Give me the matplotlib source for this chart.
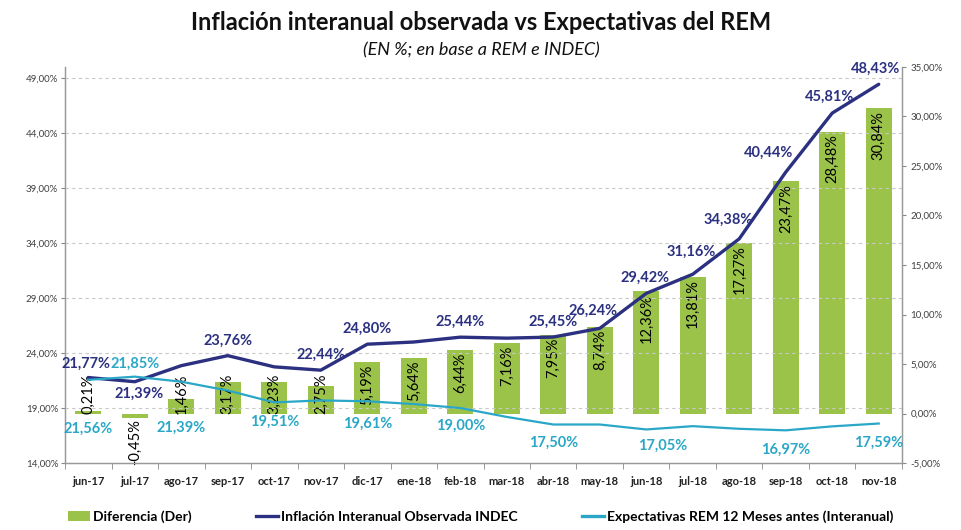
import numpy as np
import matplotlib
matplotlib.use("Agg")
import matplotlib.pyplot as plt
from matplotlib.patches import Patch
from matplotlib.lines import Line2D

# ==============================
# Data
# ==============================
months = ["jun-17", "jul-17", "ago-17", "sep-17", "oct-17", "nov-17",
          "dic-17", "ene-18", "feb-18", "mar-18", "abr-18", "may-18",
          "jun-18", "jul-18", "ago-18", "sep-18", "oct-18", "nov-18"]

inflacion = [21.77, 21.39, 22.85, 23.76, 22.74, 22.44,
             24.80, 25.00, 25.44, 25.35, 25.45, 26.24,
             29.42, 31.16, 34.38, 40.44, 45.81, 48.43]

expectativas = [21.56, 21.85, 21.39, 20.59, 19.51, 19.69,
                19.61, 19.36, 19.00, 18.19, 17.50, 17.50,
                17.05, 17.35, 17.11, 16.97, 17.33, 17.59]

diferencia = [0.21, -0.45, 1.46, 3.17, 3.23, 2.75,
              5.19, 5.64, 6.44, 7.16, 7.95, 8.74,
              12.36, 13.81, 17.27, 23.47, 28.48, 30.84]

# which points carry a label
infl_labeled = [0, 1, 3, 5, 6, 8, 10, 11, 12, 13, 14, 15, 16, 17]
exp_labeled = [0, 1, 2, 4, 6, 8, 10, 12, 15, 17]

left_ticks = [14, 19, 24, 29, 34, 39, 44, 49]
right_ticks = [-5, 0, 5, 10, 15, 20, 25, 30, 35]

# label offsets in points (dx, dy)
infl_off = {0: (-2, 10), 1: (3, -9), 3: (0, 11), 5: (0, 11), 6: (0, 11),
            8: (0, 11), 10: (0, 11), 11: (-5, 13), 12: (-1, 11),
            13: (-1, 16), 14: (-8, 14), 15: (-12, 14), 16: (-2, 12),
            17: (-2, 11)}
exp_off = {0: (0, -35), 1: (0, 9), 2: (0, -33), 4: (0, -14), 6: (0, -16),
           8: (0, -13), 10: (0, -13), 12: (12, -12), 15: (0, -14),
           17: (0, -14)}

NAVY = "#2B3080"
LIGHT = "#2AA7C7"
GREEN = "#9BC34A"
GRID = "#C8C8C8"

FONT = "Lato"
plt.rcParams["font.family"] = [FONT, "DejaVu Sans"]


def pct(v):
    return f"{v:.2f}%".replace(".", ",")


fig = plt.figure(figsize=(9.62, 5.30), dpi=100)
ax = fig.add_axes([0.0676, 0.1264, 0.870, 0.7472])
ax2 = ax.twinx()

x = np.arange(len(months))

# ---- left axis (lines) ----
ax.set_xlim(-0.5, len(months) - 0.5)
ax.set_ylim(14, 50)
ax.set_yticks(left_ticks)
ax.set_yticklabels([pct(t) for t in left_ticks], fontsize=7, color="#404040")
for t in left_ticks[1:]:
    ax.axhline(t, color=GRID, lw=0.8, ls=(0, (3, 3)), zorder=0)

# ---- right axis (bars) ----
ax2.set_ylim(-5, 35)
ax2.set_yticks(right_ticks)
ax2.set_yticklabels([pct(t) for t in right_ticks], fontsize=7, color="#404040")
ax2.bar(x, diferencia, width=0.56, color=GREEN, zorder=1)

for i, v in enumerate(diferencia):
    if v >= 5.1:
        ax2.annotate(pct(v), (i, v), xytext=(0, -2), textcoords="offset points",
                     rotation=90, ha="center", va="top", fontsize=10.5,
                     color="black", zorder=3)
    elif v >= 0:
        ax2.annotate(pct(v), (i, 0), xytext=(0, 0), textcoords="offset points",
                     rotation=90, ha="center", va="bottom", fontsize=10.5,
                     color="black", zorder=3)
    else:
        ax2.annotate(pct(v), (i, v), xytext=(0, -1), textcoords="offset points",
                     rotation=90, ha="center", va="top", fontsize=10.5,
                     color="black", zorder=3)

# put line axis above bar axis
ax.set_zorder(ax2.get_zorder() + 1)
ax.patch.set_visible(False)

ax.plot(x, inflacion, color=NAVY, lw=2.4, zorder=4, solid_capstyle="round")
ax.plot(x, expectativas, color=LIGHT, lw=1.6, zorder=4)

for i in infl_labeled:
    dx, dy = infl_off[i]
    ax.annotate(pct(inflacion[i]), (i, inflacion[i]), xytext=(dx, dy),
                textcoords="offset points", ha="center", va="center",
                fontsize=10.5, fontweight="bold", color=NAVY, zorder=6)
for i in exp_labeled:
    dx, dy = exp_off[i]
    ax.annotate(pct(expectativas[i]), (i, expectativas[i]), xytext=(dx, dy),
                textcoords="offset points", ha="center", va="center",
                fontsize=10.5, fontweight="bold", color=LIGHT, zorder=6)

# ---- axes styling ----
ax.set_xticks(x)
ax.set_xticklabels(months, fontsize=8, fontweight="bold", color="#222222")
ax.tick_params(axis="x", length=0, pad=9)
ax.set_xticks(np.arange(-0.5, len(months), 1), minor=True)
ax.tick_params(axis="x", which="minor", length=4, color="#888888", direction="out")
ax.tick_params(axis="y", length=3, color="#888888", direction="out", pad=2)
ax2.tick_params(axis="y", length=3, color="#888888", direction="out", pad=3)

for a in (ax, ax2):
    a.spines["top"].set_visible(False)
    for s in ("left", "right", "bottom"):
        a.spines[s].set_color("#999999")
        a.spines[s].set_linewidth(0.9)

# ---- title ----
fig.text(0.5, 0.958, "Inflación interanual observada vs Expectativas del REM",
         ha="center", va="center", fontsize=17, fontweight="bold", color="#111111")
fig.text(0.5, 0.905, "(EN %; en base a REM e INDEC)", ha="center", va="center",
         fontsize=13, style="italic", color="#111111")

# ---- legend (three entries placed individually) ----
handles = [
    Patch(facecolor=GREEN, edgecolor="none"),
    Line2D([0], [0], color=NAVY, lw=2.4),
    Line2D([0], [0], color=LIGHT, lw=2.4),
]
labels = ["Diferencia (Der)", "Inflación Interanual Observada INDEC",
          "Expectativas REM 12 Meses antes (Interanual)"]
leg_x = [68 / 962, 256 / 962, 582 / 962]
for h, lab, lx in zip(handles, labels, leg_x):
    leg = fig.legend([h], [lab], loc="center left", bbox_to_anchor=(lx, 0.025),
                     frameon=False, handlelength=1.6, handletextpad=0.2,
                     borderpad=0, borderaxespad=0,
                     prop={"family": [FONT, "DejaVu Sans"], "weight": "bold",
                           "size": 10})

fig.savefig("out.png", dpi=100)
